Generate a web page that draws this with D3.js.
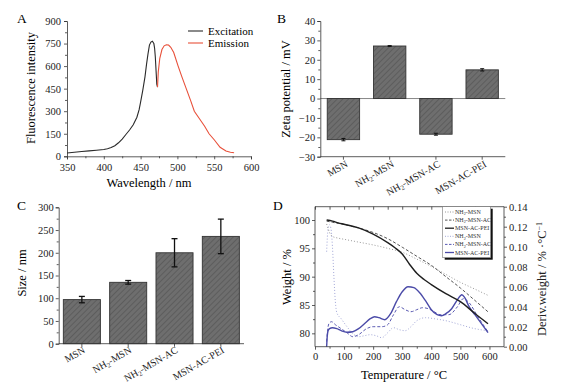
<!DOCTYPE html>
<html><head><meta charset="utf-8">
<script src="https://cdn.jsdelivr.net/npm/d3@7"></script>
<style>
body{margin:0;background:#fff;}
svg{display:block;font-family:"Liberation Serif","Times New Roman",serif;}
.tick text{font-family:"Liberation Serif",serif;font-size:10.5px;fill:#222;}
.domain,.tick line{stroke:#333;stroke-width:0.8;}
</style></head><body>
<svg id="c" width="564" height="388"></svg>
<script>
// ---------- Panel A data ----------
const excWl  = [350,360,370,380,390,400,405,410,415,420,425,430,435,440,445,448,450,453,456,458,460,462,464,466,468,469,470,471,472,473];
const excVal = [22,27,32,36,40,45,50,58,70,90,115,145,175,210,260,310,360,440,530,610,680,740,760,765,750,720,660,570,480,460];
const emWl   = [473,474,476,479,482,485,488,491,495,501,506,512,518,523,530,537,543,550,558,566,572,577];
const emVal  = [460,560,650,710,735,742,740,725,690,600,530,450,370,300,250,200,150,110,60,35,27,24];
const aXTicks = [350,400,450,500,550,600];
const aYTicks = [0,150,300,450,600,750,900];

// ---------- Panel B / C data ----------
const cats = ["MSN","NH2-MSN","NH2-MSN-AC","MSN-AC-PEI"];
const zetaVals = [-21.2, 27.1, -18.4, 14.8];
const zetaErr  = [0.6, 0.2, 0.5, 0.6];
const zetaTicks = [-30,-20,-10,0,10,20,30,40];
const sizeVals = [97, 135, 200, 236];
const sizeErr  = [7, 4, 31, 38];
const sizeTicks = [0,50,100,150,200,250,300];

// ---------- Panel D data ----------
const wT      = [40,50,60,80,100,150,200,250,300,350,400,450,500,550,595];
const wNH2    = [99.3,97.8,97.1,96.8,96.6,96.1,95.6,95.0,94.3,93.1,91.8,90.4,89.0,87.8,86.7];
const wNH2AC  = [99.8,99.7,99.6,99.4,99.2,98.6,97.8,96.7,95.2,93.6,92.0,90.0,88.0,85.8,83.8];
const wPEIT   = [40,60,80,100,150,200,250,275,300,325,350,375,400,450,500,550,595];
const wPEI    = [100,99.8,99.5,99.25,98.6,97.5,96.0,95.1,94.0,92.2,90.6,89.5,88.6,87.0,85.6,83.5,81.7];
const dPEIT   = [40,42,45,50,60,75,90,110,130,150,170,190,205,220,240,260,280,300,320,340,360,380,400,420,435,450,470,490,505,515,530,550,570,595];
const dPEI    = [0,0.010,0.016,0.018,0.019,0.018,0.016,0.0145,0.015,0.018,0.023,0.028,0.030,0.029,0.027,0.033,0.045,0.055,0.060,0.059,0.054,0.046,0.037,0.032,0.031,0.033,0.038,0.047,0.052,0.049,0.040,0.032,0.024,0.014];
const dACT    = [40,45,50,57,70,90,110,130,150,177,200,230,250,270,290,310,330,350,370,390,410,430,460,490,510,530,560,595];
const dAC     = [0.005,0.020,0.024,0.025,0.022,0.018,0.014,0.010,0.012,0.018,0.020,0.020,0.022,0.032,0.040,0.037,0.035,0.037,0.039,0.038,0.035,0.032,0.032,0.040,0.048,0.044,0.030,0.015];
const dNH2T   = [40,45,50,55,60,65,70,75,90,110,130,150,170,190,210,230,250,270,290,310,330,350,380,410,450,500,550,595];
const dNH2    = [0.095,0.118,0.122,0.118,0.100,0.070,0.045,0.034,0.028,0.020,0.013,0.010,0.011,0.012,0.011,0.009,0.014,0.019,0.017,0.016,0.020,0.026,0.029,0.028,0.026,0.022,0.018,0.016];
const dXTicks = [0,100,200,300,400,500,600];
const dWTicks = [80,85,90,95,100];
const dDTicks = [0,0.02,0.04,0.06,0.08,0.10,0.12,0.14];

const svg = d3.select("#c");
const defs = svg.append("defs");
const pat = defs.append("pattern").attr("id","hatch").attr("patternUnits","userSpaceOnUse")
  .attr("width",4).attr("height",4).attr("patternTransform","rotate(45)");
pat.append("rect").attr("width",4).attr("height",4).attr("fill","#6e6e6e");
pat.append("line").attr("x1",0).attr("y1",0).attr("x2",0).attr("y2",4).attr("stroke","#525252").attr("stroke-width",1.2);

function catLabel(sel, name, x, y, fs){
  const t = sel.append("text").attr("transform",`translate(${x},${y}) rotate(-30)`)
    .attr("text-anchor","end").attr("font-size",fs).attr("fill","#222");
  if(name.startsWith("NH2")){
    t.append("tspan").text("NH");
    t.append("tspan").text("2").attr("font-size",fs*0.7).attr("dy",2);
    t.append("tspan").text(name.slice(3)).attr("dy",-2);
  } else t.text(name);
}

// ================= Panel A =================
{
  const x = d3.scaleLinear().domain([350,600]).range([67,251]);
  const y = d3.scaleLinear().domain([0,900]).range([156.3,21]);
  const g = svg.append("g");
  g.append("g").attr("transform","translate(0,156.3)").call(d3.axisBottom(x).tickValues(aXTicks).tickSize(3).tickPadding(4));
  g.append("g").attr("transform","translate(0,156.3)").call(d3.axisBottom(x).tickValues(d3.range(375,600,50)).tickSize(2).tickFormat("")).call(s=>s.select(".domain").remove());
  g.append("g").attr("transform","translate(67,0)").call(d3.axisLeft(y).tickValues(aYTicks).tickSize(3).tickPadding(3));
  g.append("g").attr("transform","translate(67,0)").call(d3.axisLeft(y).tickValues(d3.range(75,900,150)).tickSize(2).tickFormat("")).call(s=>s.select(".domain").remove());
  const line = d3.line().x(d=>x(d[0])).y(d=>y(d[1]));
  g.append("path").attr("d",line(excWl.map((w,i)=>[w,excVal[i]]))).attr("fill","none").attr("stroke","#2a2a2a").attr("stroke-width",1.1);
  g.append("path").attr("d",line(emWl.map((w,i)=>[w,emVal[i]]))).attr("fill","none").attr("stroke","#e8503a").attr("stroke-width",1.1);
  // legend
  g.append("line").attr("x1",188).attr("x2",203).attr("y1",31).attr("y2",31).attr("stroke","#2a2a2a").attr("stroke-width",1.1);
  g.append("text").attr("x",208).attr("y",34.5).attr("font-size",11).text("Excitation");
  g.append("line").attr("x1",188).attr("x2",203).attr("y1",43).attr("y2",43).attr("stroke","#e8503a").attr("stroke-width",1.1);
  g.append("text").attr("x",208).attr("y",46.5).attr("font-size",11).text("Emission");
  g.append("text").attr("x",149).attr("y",187).attr("text-anchor","middle").attr("font-size",12.5).text("Wavelength / nm");
  g.append("text").attr("transform","translate(35,88) rotate(-90)").attr("text-anchor","middle").attr("font-size",12.5).text("Fluorescence intensity");
  g.append("text").attr("x",17).attr("y",23).attr("font-size",13.5).text("A");
}

// ================= Panel B =================
{
  const x = d3.scaleBand().domain(cats).range([320.3,505.3]).paddingInner(0.3).paddingOuter(0.15);
  const y = d3.scaleLinear().domain([-30,40]).range([156.7,21]);
  const g = svg.append("g");
  g.append("line").attr("x1",320.3).attr("x2",505.3).attr("y1",y(0)).attr("y2",y(0)).attr("stroke","#888").attr("stroke-width",1);
  g.selectAll("rect.bar").data(cats).join("rect")
    .attr("x",d=>x(d)).attr("width",x.bandwidth())
    .attr("y",(d,i)=>y(Math.max(0,zetaVals[i]))).attr("height",(d,i)=>Math.abs(y(zetaVals[i])-y(0)))
    .attr("fill","url(#hatch)").attr("stroke","#333").attr("stroke-width",0.9);
  cats.forEach((c,i)=>{
    const cx = x(c)+x.bandwidth()/2, v=zetaVals[i], e=zetaErr[i];
    g.append("line").attr("x1",cx).attr("x2",cx).attr("y1",y(v-e)).attr("y2",y(v+e)).attr("stroke","#111").attr("stroke-width",1);
    [v-e,v+e].forEach(z=>g.append("line").attr("x1",cx-2).attr("x2",cx+2).attr("y1",y(z)).attr("y2",y(z)).attr("stroke","#111").attr("stroke-width",1));
  });
  g.append("g").attr("transform","translate(0,156.7)").call(d3.axisBottom(x).tickSize(3).tickFormat("")).call(s=>s.select(".domain").attr("d","M320.3,0H505.3"));
  g.append("g").attr("transform","translate(320.3,0)").call(d3.axisLeft(y).tickValues(zetaTicks).tickSize(3).tickPadding(2));
  g.append("g").attr("transform","translate(320.3,0)").call(d3.axisLeft(y).tickValues(d3.range(-25,40,10)).tickSize(2).tickFormat("")).call(s=>s.select(".domain").remove());
  cats.forEach(c=>catLabel(g,c,x(c)+x.bandwidth()/2+5,166,10));
  g.append("text").attr("transform","translate(290,89) rotate(-90)").attr("text-anchor","middle").attr("font-size",12.5).text("Zeta potential / mV");
  g.append("text").attr("x",277).attr("y",23).attr("font-size",13.5).text("B");
}

// ================= Panel C =================
{
  const x = d3.scaleBand().domain(cats).range([58.7,244]).paddingInner(0.2).paddingOuter(0.1);
  const y = d3.scaleLinear().domain([0,300]).range([343.7,207.3]);
  const g = svg.append("g");
  g.selectAll("rect.bar").data(cats).join("rect")
    .attr("x",d=>x(d)).attr("width",x.bandwidth())
    .attr("y",(d,i)=>y(sizeVals[i])).attr("height",(d,i)=>y(0)-y(sizeVals[i]))
    .attr("fill","url(#hatch)").attr("stroke","#333").attr("stroke-width",0.9);
  cats.forEach((c,i)=>{
    const cx = x(c)+x.bandwidth()/2, v=sizeVals[i], e=sizeErr[i];
    g.append("line").attr("x1",cx).attr("x2",cx).attr("y1",y(v-e)).attr("y2",y(v+e)).attr("stroke","#111").attr("stroke-width",1.3);
    [v-e,v+e].forEach(z=>g.append("line").attr("x1",cx-3).attr("x2",cx+3).attr("y1",y(z)).attr("y2",y(z)).attr("stroke","#111").attr("stroke-width",1.3));
  });
  g.append("g").attr("transform","translate(0,343.7)").call(d3.axisBottom(x).tickSize(3).tickFormat("")).call(s=>s.select(".domain").attr("d","M58.7,0H244"));
  g.append("g").attr("transform","translate(58.7,0)").call(d3.axisLeft(y).tickValues(sizeTicks).tickSize(3).tickPadding(2));
  g.append("g").attr("transform","translate(58.7,0)").call(d3.axisLeft(y).tickValues(d3.range(25,300,50)).tickSize(2).tickFormat("")).call(s=>s.select(".domain").remove());
  cats.forEach(c=>catLabel(g,c,x(c)+x.bandwidth()/2+4,352,10));
  g.append("text").attr("transform","translate(26,273) rotate(-90)").attr("text-anchor","middle").attr("font-size",12.5).text("Size / nm");
  g.append("text").attr("x",17).attr("y",210).attr("font-size",13.5).text("C");
}

// ================= Panel D =================
{
  const x = d3.scaleLinear().domain([0,650]).range([315,504]);
  const yW = d3.scaleLinear().domain([77.64,102.35]).range([346.7,206.7]);
  const yD = d3.scaleLinear().domain([0,0.14]).range([346.7,206.7]);
  const blue = "#4b4ba8";
  const g = svg.append("g");
  const lW = d3.line().curve(d3.curveMonotoneX).x(d=>x(d[0])).y(d=>yW(d[1]));
  const lD = d3.line().curve(d3.curveMonotoneX).x(d=>x(d[0])).y(d=>yD(d[1]));
  const z = (a,b)=>a.map((t,i)=>[t,b[i]]);
  g.append("path").attr("d",lD(z(dNH2T,dNH2))).attr("fill","none").attr("stroke","#a3a8d8").attr("stroke-width",1).attr("stroke-dasharray","1,2");
  g.append("path").attr("d",lD(z(dACT,dAC))).attr("fill","none").attr("stroke","#5a5ab2").attr("stroke-width",1).attr("stroke-dasharray","3,2");
  g.append("path").attr("d",lD(z(dPEIT,dPEI))).attr("fill","none").attr("stroke",blue).attr("stroke-width",1.4);
  g.append("path").attr("d",lW(z(wT,wNH2))).attr("fill","none").attr("stroke","#999").attr("stroke-width",1).attr("stroke-dasharray","1,2");
  g.append("path").attr("d",lW(z(wT,wNH2AC))).attr("fill","none").attr("stroke","#555").attr("stroke-width",1).attr("stroke-dasharray","3,2");
  g.append("path").attr("d",lW(z(wPEIT,wPEI))).attr("fill","none").attr("stroke","#1e1e1e").attr("stroke-width",1.4);
  // axes
  g.append("g").attr("transform","translate(0,346.7)").call(d3.axisBottom(x).tickValues(dXTicks).tickSize(3).tickPadding(3)).call(s=>s.select(".domain").attr("d","M315,0H504"));
  g.append("g").attr("transform","translate(0,346.7)").call(d3.axisBottom(x).tickValues(d3.range(50,650,100)).tickSize(2).tickFormat("")).call(s=>s.select(".domain").remove());
  g.append("g").attr("transform","translate(0,206.7)").call(d3.axisBottom(x).tickValues(d3.range(0,650,50)).tickSize(3).tickFormat("")).call(s=>s.select(".domain").attr("d","M315,0H504").attr("stroke","#555").attr("stroke-width",1.2));
  g.append("g").attr("transform","translate(315,0)").call(d3.axisLeft(yW).tickValues(dWTicks).tickSize(3).tickPadding(2)).call(s=>s.select(".domain").attr("d","M0,206.7V346.7"));
  g.append("g").attr("transform","translate(315,0)").call(d3.axisLeft(yW).tickValues([82.5,87.5,92.5,97.5]).tickSize(2).tickFormat("")).call(s=>s.select(".domain").remove());
  const ra = g.append("g").attr("transform","translate(504,0)").call(d3.axisRight(yD).tickValues(dDTicks).tickSize(3).tickPadding(2).tickFormat(d3.format(".2f")));
  ra.select(".domain").attr("d","M0,206.7V346.7").attr("stroke",blue).attr("stroke-width",1.1);
  ra.selectAll(".tick line").attr("stroke",blue);
  ra.selectAll(".tick text").attr("fill",blue);
  const ra2 = g.append("g").attr("transform","translate(504,0)").call(d3.axisRight(yD).tickValues(d3.range(0.01,0.14,0.02)).tickSize(2).tickFormat(""));
  ra2.select(".domain").remove(); ra2.selectAll(".tick line").attr("stroke",blue);
  // legend
  const lg = g.append("g");
  lg.append("rect").attr("x",444.7).attr("y",208.7).attr("width",48).attr("height",51).attr("fill","#111");
  lg.append("rect").attr("x",442.7).attr("y",206.7).attr("width",48).attr("height",51).attr("fill","#fff").attr("stroke","#777").attr("stroke-width",0.6);
  const leg = [
    ["NH2-MSN","#999","1,1.5",1],["NH2-MSN-AC","#555","2.5,1.5",1],["MSN-AC-PEI","#1e1e1e",null,1.3],
    ["NH2-MSN","#a3a8d8","1,1.5",1],["NH2-MSN-AC","#5a5ab2","2.5,1.5",1],["MSN-AC-PEI",blue,null,1.3]
  ];
  leg.forEach((d,i)=>{
    const yy = 212+i*8.1;
    const ln = lg.append("line").attr("x1",445).attr("x2",454).attr("y1",yy).attr("y2",yy).attr("stroke",d[1]).attr("stroke-width",d[3]);
    if(d[2]) ln.attr("stroke-dasharray",d[2]);
    const t = lg.append("text").attr("x",455).attr("y",yy+2).attr("font-size",6).attr("fill","#333");
    if(d[0].startsWith("NH2")){
      t.append("tspan").text("NH");
      t.append("tspan").text("2").attr("font-size",4.2).attr("dy",1.2);
      t.append("tspan").text(d[0].slice(3)).attr("dy",-1.2);
    } else t.text(d[0]);
  });
  g.append("text").attr("x",404).attr("y",379).attr("text-anchor","middle").attr("font-size",12.5).text("Temperature / °C");
  g.append("text").attr("transform","translate(291,277) rotate(-90)").attr("text-anchor","middle").attr("font-size",12.5).text("Weight / %");
  const rt = g.append("text").attr("transform","translate(546,279) rotate(-90)").attr("text-anchor","middle").attr("font-size",12.5).attr("fill","#222");
  rt.append("tspan").text("Deriv.weight / % ·°C");
  rt.append("tspan").text("−1").attr("font-size",8).attr("dy",-4);
  g.append("text").attr("x",273).attr("y",210).attr("font-size",13.5).text("D");
}
</script>
</body></html>
